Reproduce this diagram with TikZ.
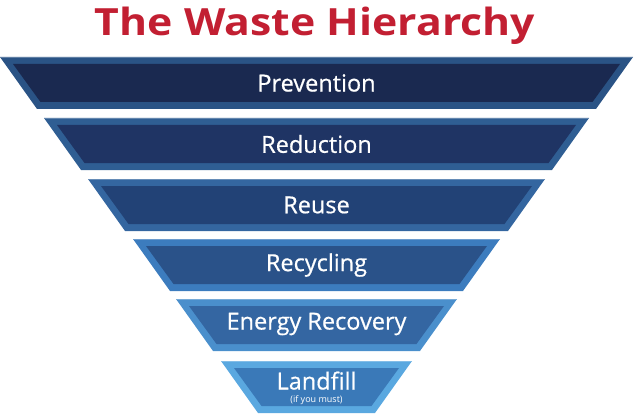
\documentclass[tikz,border=0pt]{standalone}
\usepackage{fontspec}
\usepackage{graphicx}
\setmainfont{Open Sans}
\newfontfamily\labelfont[FakeBold=0.6]{Open Sans}
\definecolor{titlered}{HTML}{C21F32}
\definecolor{bOa}{HTML}{2A5385}\definecolor{bIa}{HTML}{1A2950}
\definecolor{bOb}{HTML}{2F5E93}\definecolor{bIb}{HTML}{1F3464}
\definecolor{bOc}{HTML}{3466A0}\definecolor{bIc}{HTML}{224276}
\definecolor{bOd}{HTML}{3C7CBE}\definecolor{bId}{HTML}{2A5289}
\definecolor{bOe}{HTML}{4A8FCC}\definecolor{bIe}{HTML}{3466A2}
\definecolor{bOf}{HTML}{5AA8E0}\definecolor{bIf}{HTML}{3A79B8}
\tikzset{
  bandlabel/.style={text=white, font=\labelfont\fontsize{23.5}{25}\selectfont, inner sep=0pt, anchor=center},
}
\newcommand{\wband}[5]{% top, lefttop, outercolor, innercolor, name
  \pgfmathsetmacro{\tp}{#1}\pgfmathsetmacro{\bt}{#1+52}
  \pgfmathsetmacro{\lt}{#2}\pgfmathsetmacro{\lb}{#2+37}
  \pgfmathsetmacro{\rt}{633-#2}\pgfmathsetmacro{\rb}{633-#2-37}
  \fill[#3] (\lt,\tp) -- (\rt,\tp) -- (\rb,\bt) -- (\lb,\bt) -- cycle;
  \draw[white, opacity=0.25, line width=0.8pt] (\lt+0.6,\tp+0.4) -- (\rt-0.6,\tp+0.4);
  \fill[#4] (\lt+13,\tp+7) -- (\rt-13,\tp+7) -- (\rb-3.5,\bt-7) -- (\lb+3.5,\bt-7) -- cycle;
  \coordinate (#5) at (316.5,{#1+26});
}
\begin{document}
\begin{tikzpicture}[x=1pt,y=-1pt]
\useasboundingbox (0,0) rectangle (638,420);
\node[text=titlered, font=\fontsize{37.5}{40}\bfseries\selectfont, inner sep=0pt, anchor=base] (title) at (315,36) {\scalebox{1.14}[1]{The Waste Hierarchy}};
\wband{57}{0}{bOa}{bIa}{c1}
\wband{118}{44}{bOb}{bIb}{c2}
\wband{179}{88}{bOc}{bIc}{c3}
\wband{239}{133}{bOd}{bId}{c4}
\wband{299}{176}{bOe}{bIe}{c5}
\wband{361}{221}{bOf}{bIf}{c6}
\node[bandlabel] (prevention) at (c1) {Prevention};
\node[bandlabel] (reduction) at (c2) {Reduction};
\node[bandlabel] (reuse) at (c3) {Reuse};
\node[bandlabel] (recycling) at (c4) {Recycling};
\node[bandlabel] (energy) at ([yshift=1]c5) {Energy Recovery};
\node[bandlabel, anchor=base] (landfill) at (316.5,389.5) {Landfill};
\node[text=white, font=\fontsize{9}{10}\selectfont, inner sep=0pt, anchor=base] (ifmust) at (316.5,402) {(if you must)};
\end{tikzpicture}
\end{document}
